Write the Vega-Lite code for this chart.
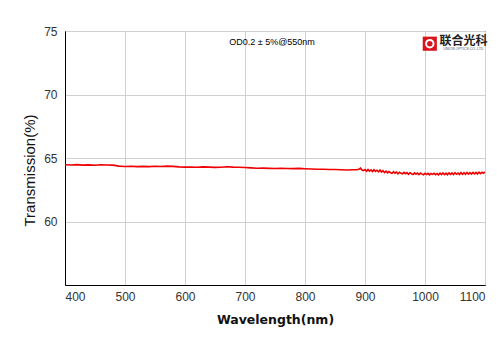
{
  "$schema": "https://vega.github.io/schema/vega-lite/v6.json",
  "autosize": "none",
  "width": 420,
  "height": 254,
  "padding": {"left": 65, "top": 31, "right": 15, "bottom": 68},
  "background": "white",
  "config": {
    "view": {"stroke": "#000", "strokeWidth": 1},
    "font": "Liberation Sans"
  },
  "layer": [
    {
      "data": {
        "values": [
          {"wl": 400, "t": 64.47}, {"wl": 410, "t": 64.45}, {"wl": 420, "t": 64.48}, {"wl": 430, "t": 64.44},
          {"wl": 440, "t": 64.46}, {"wl": 450, "t": 64.43}, {"wl": 460, "t": 64.47}, {"wl": 470, "t": 64.45},
          {"wl": 480, "t": 64.44}, {"wl": 490, "t": 64.36}, {"wl": 500, "t": 64.33}, {"wl": 510, "t": 64.35},
          {"wl": 520, "t": 64.32}, {"wl": 530, "t": 64.34}, {"wl": 540, "t": 64.32}, {"wl": 550, "t": 64.35},
          {"wl": 560, "t": 64.33}, {"wl": 570, "t": 64.36}, {"wl": 580, "t": 64.34}, {"wl": 590, "t": 64.30},
          {"wl": 600, "t": 64.28}, {"wl": 610, "t": 64.29}, {"wl": 620, "t": 64.27}, {"wl": 630, "t": 64.30},
          {"wl": 640, "t": 64.28}, {"wl": 650, "t": 64.26}, {"wl": 660, "t": 64.27}, {"wl": 670, "t": 64.31},
          {"wl": 680, "t": 64.28}, {"wl": 690, "t": 64.27}, {"wl": 700, "t": 64.25}, {"wl": 710, "t": 64.22},
          {"wl": 720, "t": 64.19}, {"wl": 730, "t": 64.20}, {"wl": 740, "t": 64.18}, {"wl": 750, "t": 64.17},
          {"wl": 760, "t": 64.19}, {"wl": 770, "t": 64.17}, {"wl": 780, "t": 64.16}, {"wl": 790, "t": 64.18},
          {"wl": 800, "t": 64.15}, {"wl": 810, "t": 64.13}, {"wl": 820, "t": 64.11}, {"wl": 830, "t": 64.12},
          {"wl": 840, "t": 64.10}, {"wl": 850, "t": 64.09}, {"wl": 860, "t": 64.08}, {"wl": 870, "t": 64.06},
          {"wl": 880, "t": 64.07}, {"wl": 885, "t": 64.08},
          {"wl": 890, "t": 64.12}, {"wl": 892.5, "t": 64.20}, {"wl": 895, "t": 64.05}, {"wl": 897.5, "t": 64.00},
          {"wl": 900, "t": 64.09}, {"wl": 902.5, "t": 63.95}, {"wl": 905, "t": 64.10}, {"wl": 907.5, "t": 63.97},
          {"wl": 910, "t": 64.06}, {"wl": 912.5, "t": 63.93}, {"wl": 915, "t": 64.08}, {"wl": 917.5, "t": 63.95},
          {"wl": 920, "t": 64.04}, {"wl": 922.5, "t": 63.92}, {"wl": 925, "t": 64.05}, {"wl": 927.5, "t": 63.89},
          {"wl": 930, "t": 64.00}, {"wl": 932.5, "t": 63.86}, {"wl": 935, "t": 63.97}, {"wl": 937.5, "t": 63.83},
          {"wl": 940, "t": 63.94}, {"wl": 942.5, "t": 63.84}, {"wl": 945, "t": 63.79}, {"wl": 947.5, "t": 63.92},
          {"wl": 950, "t": 63.80}, {"wl": 952.5, "t": 63.89}, {"wl": 955, "t": 63.76}, {"wl": 957.5, "t": 63.88},
          {"wl": 960, "t": 63.79}, {"wl": 962.5, "t": 63.75}, {"wl": 965, "t": 63.87}, {"wl": 967.5, "t": 63.76},
          {"wl": 970, "t": 63.85}, {"wl": 972.5, "t": 63.72}, {"wl": 975, "t": 63.84}, {"wl": 977.5, "t": 63.76},
          {"wl": 980, "t": 63.70}, {"wl": 982.5, "t": 63.83}, {"wl": 985, "t": 63.73}, {"wl": 987.5, "t": 63.82},
          {"wl": 990, "t": 63.69}, {"wl": 992.5, "t": 63.81}, {"wl": 995, "t": 63.73}, {"wl": 997.5, "t": 63.68},
          {"wl": 1000, "t": 63.80}, {"wl": 1002.5, "t": 63.70}, {"wl": 1005, "t": 63.79}, {"wl": 1007.5, "t": 63.67},
          {"wl": 1010, "t": 63.78}, {"wl": 1012.5, "t": 63.71}, {"wl": 1015, "t": 63.80}, {"wl": 1017.5, "t": 63.68},
          {"wl": 1020, "t": 63.77}, {"wl": 1022.5, "t": 63.67}, {"wl": 1025, "t": 63.80}, {"wl": 1027.5, "t": 63.69},
          {"wl": 1030, "t": 63.82}, {"wl": 1032.5, "t": 63.70}, {"wl": 1035, "t": 63.81}, {"wl": 1037.5, "t": 63.68},
          {"wl": 1040, "t": 63.83}, {"wl": 1042.5, "t": 63.71}, {"wl": 1045, "t": 63.82}, {"wl": 1047.5, "t": 63.69},
          {"wl": 1050, "t": 63.84}, {"wl": 1052.5, "t": 63.72}, {"wl": 1055, "t": 63.82}, {"wl": 1057.5, "t": 63.70},
          {"wl": 1060, "t": 63.85}, {"wl": 1062.5, "t": 63.72}, {"wl": 1065, "t": 63.84}, {"wl": 1067.5, "t": 63.71},
          {"wl": 1070, "t": 63.86}, {"wl": 1072.5, "t": 63.73}, {"wl": 1075, "t": 63.85}, {"wl": 1077.5, "t": 63.74},
          {"wl": 1080, "t": 63.87}, {"wl": 1082.5, "t": 63.75}, {"wl": 1085, "t": 63.86}, {"wl": 1087.5, "t": 63.74},
          {"wl": 1090, "t": 63.89}, {"wl": 1092.5, "t": 63.77}, {"wl": 1095, "t": 63.88}, {"wl": 1097.5, "t": 63.80},
          {"wl": 1100, "t": 63.90}
        ]
      },
      "mark": {"type": "line", "color": "#f00000", "strokeWidth": 1.6, "clip": true},
      "encoding": {
        "x": {
          "field": "wl", "type": "quantitative",
          "scale": {"domain": [400, 1100], "nice": false, "zero": false},
          "axis": {
            "values": [400, 500, 600, 700, 800, 900, 1000, 1100],
            "format": "d",
            "title": "Wavelength(nm)",
            "titleFont": "DejaVu Sans", "titleFontSize": 12.5, "titleFontWeight": "bold", "titleColor": "#111",
            "titlePadding": 11,
            "labelFontSize": 12, "labelColor": "#333", "labelPadding": 6,
            "ticks": false, "domainColor": "#000",
            "grid": true, "gridColor": "#d0d0d0", "gridWidth": 1
          }
        },
        "y": {
          "field": "t", "type": "quantitative",
          "scale": {"domain": [55, 75], "nice": false, "zero": false},
          "axis": {
            "values": [60, 65, 70, 75],
            "title": "Transmission(%)",
            "titleFont": "Liberation Sans", "titleFontSize": 15, "titleFontWeight": "normal", "titleColor": "#111",
            "titlePadding": 6,
            "titleY": 139,
            "labelFontSize": 12, "labelColor": "#333", "labelPadding": 8,
            "ticks": false, "domainColor": "#000",
            "grid": true, "gridColor": "#d0d0d0", "gridWidth": 1
          }
        }
      }
    },
    {
      "data": {"values": [{"label": "OD0.2 ± 5%@550nm"}]},
      "mark": {"type": "text", "fontSize": 9, "color": "#000", "align": "center", "baseline": "middle"},
      "encoding": {
        "x": {"datum": 745, "type": "quantitative"},
        "y": {"datum": 74.1, "type": "quantitative"},
        "text": {"field": "label"}
      }
    },
    {
      "data": {"values": [{"k": "logo"}]},
      "mark": {"type": "point", "shape": "square", "filled": true, "color": "#d9141c", "size": 200, "opacity": 1},
      "encoding": {
        "x": {"datum": 1008, "type": "quantitative"},
        "y": {"datum": 74.0, "type": "quantitative"}
      }
    },
    {
      "data": {"values": [{"k": "logo"}]},
      "mark": {"type": "point", "shape": "circle", "filled": false, "color": "white", "size": 55, "strokeWidth": 2, "opacity": 1},
      "encoding": {
        "x": {"datum": 1008, "type": "quantitative"},
        "y": {"datum": 74.0, "type": "quantitative"}
      }
    },
    {
      "data": {"values": [{"label": "联合光科"}]},
      "mark": {"type": "text", "font": "Noto Sans CJK SC", "fontSize": 12, "fontWeight": "bold", "color": "#222", "align": "center", "baseline": "middle"},
      "encoding": {
        "x": {"datum": 1064, "type": "quantitative"},
        "y": {"datum": 74.22, "type": "quantitative"},
        "text": {"field": "label"}
      }
    },
    {
      "data": {"values": [{"label": "UNION   OPTICS CO.,LTD"}]},
      "mark": {"type": "text", "fontSize": 3.5, "color": "#555", "align": "center", "baseline": "middle"},
      "encoding": {
        "x": {"datum": 1064, "type": "quantitative"},
        "y": {"datum": 73.55, "type": "quantitative"},
        "text": {"field": "label"}
      }
    }
  ]
}
